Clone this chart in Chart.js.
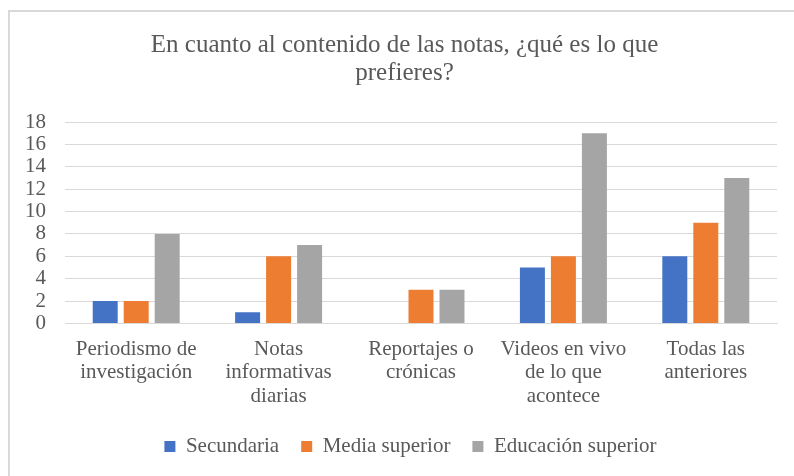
<!DOCTYPE html>
<html>
<head>
<meta charset="utf-8">
<script src="https://cdn.jsdelivr.net/npm/chart.js@4/dist/chart.umd.min.js"></script>
<style>
  html, body { margin: 0; padding: 0; background: #fff; overflow: hidden; width: 794px; height: 476px; }
  #frame {
    position: absolute; left: 8px; top: 10px; width: 800px; height: 480px;
    border-left: 2px solid #d9d9d9; border-top: 2px solid #d9d9d9;
  }
  #wrap { position: absolute; left: 6px; top: 0; width: 796px; height: 476px; }
</style>
</head>
<body>
<div id="frame"></div>
<div id="wrap"><canvas id="barChart"></canvas></div>
<script>
const categories = [
  ["Periodismo de", "investigación"],
  ["Notas", "informativas", "diarias"],
  ["Reportajes o", "crónicas"],
  ["Videos en vivo", "de lo que", "acontece"],
  ["Todas las", "anteriores"]
];
const secundaria = [2, 1, 0, 5, 6];
const mediaSuperior = [2, 6, 3, 6, 9];
const educacionSuperior = [8, 7, 3, 17, 13];

const textColor = "#595959";
const serif = "'Liberation Serif', 'Times New Roman', serif";

Chart.defaults.font.family = serif;

// centre title and legend on the whole frame rather than the plot
const blockShift = {
  id: "blockShift",
  afterLayout(chart) {
    chart.legend.left += 19;
    chart.legend.right += 19;
    chart.titleBlock.left += 13;
    chart.titleBlock.right += 13;
  }
};

function drawChart() {
  var ctx = document.getElementById("barChart").getContext("2d");
  new Chart(ctx, {
    type: "bar",
    data: {
      labels: categories,
      datasets: [
        { label: "Secundaria", backgroundColor: "#4472C4", data: secundaria },
        { label: "Media superior", backgroundColor: "#ED7D31", data: mediaSuperior },
        { label: "Educación superior", backgroundColor: "#A5A5A5", data: educacionSuperior }
      ]
    },
    plugins: [blockShift],
    options: {
      responsive: true,
      maintainAspectRatio: false,
      animation: false,
      categoryPercentage: 0.653,
      barPercentage: 0.806,
      layout: { padding: { left: 0, right: 25, top: 0, bottom: 9 } },
      plugins: {
        title: {
          display: true,
          text: ["En cuanto al contenido de las notas, ¿qué es lo que", "prefieres?"],
          color: textColor,
          font: { family: serif, size: 25, weight: "normal", lineHeight: 1.12 },
          padding: { top: 31, bottom: 35 }
        },
        legend: {
          position: "bottom",
          labels: {
            color: textColor,
            font: { family: serif, size: 21 },
            boxWidth: 11,
            boxHeight: 11,
            padding: 22
          }
        },
        tooltip: { enabled: false }
      },
      scales: {
        x: {
          grid: { display: false },
          border: { color: "#d9d9d9", width: 1 },
          ticks: {
            color: textColor,
            font: { family: serif, size: 21, lineHeight: 1.12 },
            maxRotation: 0,
            autoSkip: false,
            padding: 6
          }
        },
        y: {
          min: 0,
          max: 18,
          grid: { color: "#d9d9d9", lineWidth: 1, drawTicks: false },
          border: { display: false },
          ticks: {
            stepSize: 2,
            autoSkip: false,
            color: textColor,
            font: { family: serif, size: 21 },
            padding: 19
          }
        }
      }
    }
  });
}

document.fonts.load("21px 'Liberation Serif'").then(drawChart, drawChart);
</script>
</body>
</html>
